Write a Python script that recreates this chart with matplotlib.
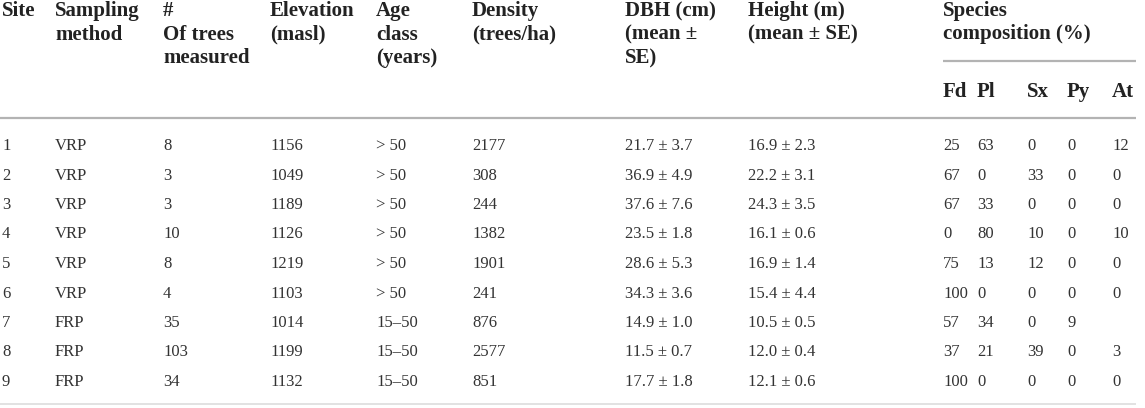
import matplotlib.pyplot as plt

# table values
sites = [1, 2, 3, 4, 5, 6, 7, 8, 9]
methods = ["VRP", "VRP", "VRP", "VRP", "VRP", "VRP", "FRP", "FRP", "FRP"]
n_trees = [8, 3, 3, 10, 8, 4, 35, 103, 34]
elevation = [1156, 1049, 1189, 1126, 1219, 1103, 1014, 1199, 1132]
age_class = ["> 50"] * 6 + ["15\u201350"] * 3
density = [2177, 308, 244, 1382, 1901, 241, 876, 2577, 851]
dbh_mean = [21.7, 36.9, 37.6, 23.5, 28.6, 34.3, 14.9, 11.5, 17.7]
dbh_se = [3.7, 4.9, 7.6, 1.8, 5.3, 3.6, 1.0, 0.7, 1.8]
height_mean = [16.9, 22.2, 24.3, 16.1, 16.9, 15.4, 10.5, 12.0, 12.1]
height_se = [2.3, 3.1, 3.5, 0.6, 1.4, 4.4, 0.5, 0.4, 0.6]
fd = [25, 67, 67, 0, 75, 100, 57, 37, 100]
pl = [63, 0, 33, 80, 13, 0, 34, 21, 0]
sx = [0, 33, 0, 10, 12, 0, 0, 39, 0]
py = [0, 0, 0, 0, 0, 0, 9, 0, 0]
at = [12, 0, 0, 10, 0, 0, None, 3, 0]

headers = [
    ["Site"],
    ["Sampling", "method"],
    ["#", "Of trees", "measured"],
    ["Elevation", "(masl)"],
    ["Age", "class", "(years)"],
    ["Density", "(trees/ha)"],
    ["DBH (cm)", "(mean \u00b1", "SE)"],
    ["Height (m)", "(mean \u00b1 SE)"],
    ["Species", "composition (%)"],
]
species = ["Fd", "Pl", "Sx", "Py", "At"]

col_x = [2, 55, 163, 270, 376, 472, 625, 748, 943]
sp_x = [943, 977, 1027, 1067, 1112]

plt.rcParams['font.family'] = ['Liberation Serif', 'DejaVu Serif']
W, H = 1145, 408
fig = plt.figure(figsize=(W / 100, H / 100), dpi=100)
ax = fig.add_axes([0, 0, 1, 1])
ax.set_xlim(0, W)
ax.set_ylim(H, 0)
ax.axis('off')

head_col = '#222222'
body_col = '#333333'
line_col = '#b3b3b3'
hfs = 15.0
bfs = 12.0

for x, lines in zip(col_x, headers):
    for i, s in enumerate(lines):
        ax.text(x, 16 + 23.5 * i, s, fontsize=hfs, fontweight='bold',
                color=head_col, va='baseline', ha='left')

for x, s in zip(sp_x, species):
    ax.text(x, 97, s, fontsize=hfs, fontweight='bold', color=head_col,
            va='baseline', ha='left')

ax.plot([943, 1136], [61, 61], color=line_col, lw=1.6, solid_capstyle='butt')
ax.plot([0, 1136], [118, 118], color=line_col, lw=1.6, solid_capstyle='butt')
ax.plot([0, 1136], [404, 404], color='#e2e2e2', lw=1.4, solid_capstyle='butt')

for r in range(len(sites)):
    y = 150 + 29.5 * r
    vals = [str(sites[r]), methods[r], str(n_trees[r]), str(elevation[r]),
            age_class[r], str(density[r]),
            f"{dbh_mean[r]:.1f} \u00b1 {dbh_se[r]:.1f}",
            f"{height_mean[r]:.1f} \u00b1 {height_se[r]:.1f}"]
    for x, s in zip(col_x[:8], vals):
        ax.text(x, y, s, fontsize=bfs, color=body_col, va='baseline', ha='left')
    for x, v in zip(sp_x, [fd[r], pl[r], sx[r], py[r], at[r]]):
        if v is not None:
            ax.text(x, y, str(v), fontsize=bfs, color=body_col,
                    va='baseline', ha='left')

fig.savefig('out.png', dpi=100)
